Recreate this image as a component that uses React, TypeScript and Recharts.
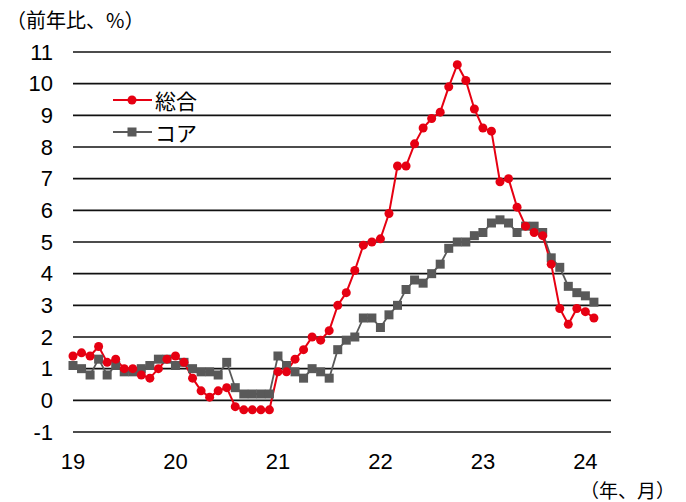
import { LineChart, Line, XAxis, YAxis, CartesianGrid } from 'recharts'

// monthly, 2019/01 - 2024/02
const months: string[] = [
  '19/01', '19/02', '19/03', '19/04', '19/05', '19/06', '19/07', '19/08', '19/09', '19/10', '19/11', '19/12',
  '20/01', '20/02', '20/03', '20/04', '20/05', '20/06', '20/07', '20/08', '20/09', '20/10', '20/11', '20/12',
  '21/01', '21/02', '21/03', '21/04', '21/05', '21/06', '21/07', '21/08', '21/09', '21/10', '21/11', '21/12',
  '22/01', '22/02', '22/03', '22/04', '22/05', '22/06', '22/07', '22/08', '22/09', '22/10', '22/11', '22/12',
  '23/01', '23/02', '23/03', '23/04', '23/05', '23/06', '23/07', '23/08', '23/09', '23/10', '23/11', '23/12',
  '24/01', '24/02',
]

const total: number[] = [
  1.4, 1.5, 1.4, 1.7, 1.2, 1.3, 1.0, 1.0, 0.8, 0.7, 1.0, 1.3,
  1.4, 1.2, 0.7, 0.3, 0.1, 0.3, 0.4, -0.2, -0.3, -0.3, -0.3, -0.3,
  0.9, 0.9, 1.3, 1.6, 2.0, 1.9, 2.2, 3.0, 3.4, 4.1, 4.9, 5.0,
  5.1, 5.9, 7.4, 7.4, 8.1, 8.6, 8.9, 9.1, 9.9, 10.6, 10.1, 9.2,
  8.6, 8.5, 6.9, 7.0, 6.1, 5.5, 5.3, 5.2, 4.3, 2.9, 2.4, 2.9,
  2.8, 2.6,
]

const core: number[] = [
  1.1, 1.0, 0.8, 1.3, 0.8, 1.1, 0.9, 0.9, 1.0, 1.1, 1.3, 1.3,
  1.1, 1.2, 1.0, 0.9, 0.9, 0.8, 1.2, 0.4, 0.2, 0.2, 0.2, 0.2,
  1.4, 1.1, 0.9, 0.7, 1.0, 0.9, 0.7, 1.6, 1.9, 2.0, 2.6, 2.6,
  2.3, 2.7, 3.0, 3.5, 3.8, 3.7, 4.0, 4.3, 4.8, 5.0, 5.0, 5.2,
  5.3, 5.6, 5.7, 5.6, 5.3, 5.5, 5.5, 5.3, 4.5, 4.2, 3.6, 3.4,
  3.3, 3.1,
]

const yearLabels = ['19', '20', '21', '22', '23', '24']
const yearTicks = [0, 12, 24, 36, 48, 60]
const yTicks = [-1, 0, 1, 2, 3, 4, 5, 6, 7, 8, 9, 10, 11]

const RED = '#e60012'
const GRAY = '#595959'
const NUM_FONT = '"Liberation Sans", Arial, sans-serif'
const JP_FONT = '"Noto Sans CJK JP", sans-serif'

const data = months.map((m, i) => ({ i, month: m, total: total[i], core: core[i] }))

function SquareDot(props: any) {
  const { cx, cy, index } = props
  if (cx == null || cy == null) return null
  return <rect key={`sq-${index}`} x={cx - 4.5} y={cy - 4.5} width={9} height={9} fill={GRAY} />
}

// legend sits inside the plot, top left
function ChartLegend() {
  const items = [
    { name: '総合', color: RED, shape: 'circle' },
    { name: 'コア', color: GRAY, shape: 'square' },
  ]
  return (
    <div style={{ position: 'absolute', left: 111, top: 84 }}>
      {items.map((it) => (
        <div key={it.name} style={{ display: 'flex', alignItems: 'center', height: 32 }}>
          <svg width={44} height={12}>
            <line x1={2} y1={6} x2={41} y2={6} stroke={it.color} strokeWidth={2} />
            {it.shape === 'circle' ? (
              <circle cx={21} cy={6} r={4.5} fill={it.color} />
            ) : (
              <rect x={16.5} y={1.5} width={9} height={9} fill={it.color} />
            )}
          </svg>
          <span style={{ fontFamily: JP_FONT, fontSize: 21, color: '#000', lineHeight: 1 }}>{it.name}</span>
        </div>
      ))}
    </div>
  )
}

export default function App() {
  return (
    <div style={{ position: 'absolute', left: 0, top: 0, width: 686, height: 502, background: '#fff' }}>
      <LineChart width={686} height={502} data={data} margin={{ top: 52, right: 75, bottom: 40, left: 0 }}>
        <CartesianGrid vertical={false} stroke="#111" strokeWidth={1.6} />
        <XAxis
          type="number"
          dataKey="i"
          domain={[0, 63]}
          ticks={yearTicks}
          tickFormatter={(v: number) => yearLabels[yearTicks.indexOf(v)] ?? ''}
          axisLine={false}
          tickLine={false}
          tickMargin={15}
          height={30}
          tick={{ fill: '#000', fontSize: 22, fontFamily: NUM_FONT }}
        />
        <YAxis
          domain={[-1, 11]}
          ticks={yTicks}
          interval={0}
          axisLine={false}
          tickLine={false}
          tickMargin={14}
          width={73}
          tick={{ fill: '#000', fontSize: 22, fontFamily: NUM_FONT }}
        />
        <Line
          dataKey="core"
          stroke={GRAY}
          strokeWidth={1.8}
          dot={SquareDot}
          activeDot={false}
          isAnimationActive={false}
        />
        <Line
          dataKey="total"
          stroke={RED}
          strokeWidth={2}
          dot={{ r: 4.5, fill: RED, stroke: 'none' }}
          activeDot={false}
          isAnimationActive={false}
        />
      </LineChart>
      <ChartLegend />
      <div style={{ position: 'absolute', left: 6, top: 10, fontFamily: JP_FONT, fontSize: 20, lineHeight: 1, whiteSpace: 'nowrap' }}>
        （前年比、%）
      </div>
      <div style={{ position: 'absolute', left: 580, top: 480, fontFamily: JP_FONT, fontSize: 19, lineHeight: 1, whiteSpace: 'nowrap' }}>
        （年、月）
      </div>
    </div>
  )
}
